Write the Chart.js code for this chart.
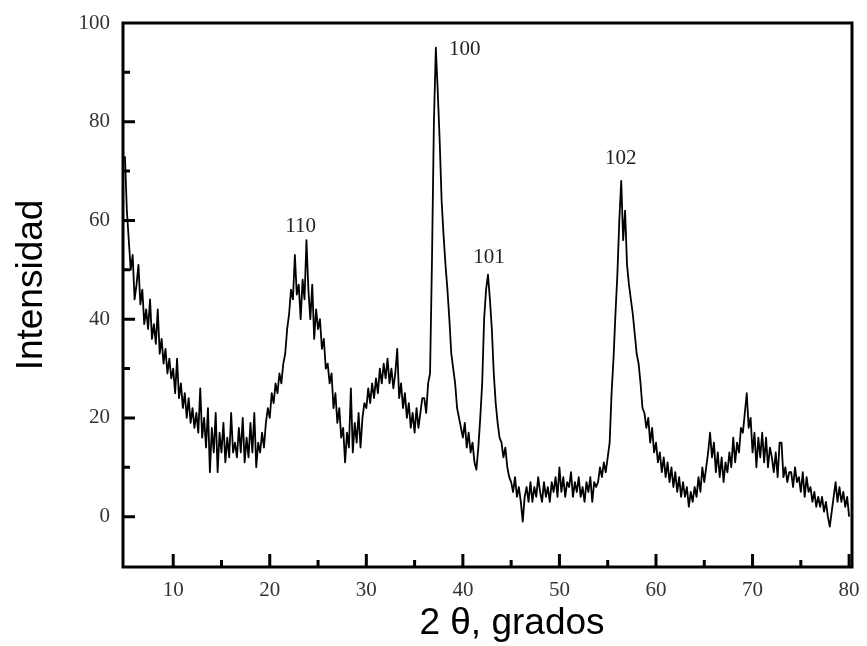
<!DOCTYPE html>
<html>
<head>
<meta charset="utf-8">
<script src="https://cdn.jsdelivr.net/npm/chart.js@4.4.0/dist/chart.umd.min.js"></script>
<style>
  html, body { margin: 0; padding: 0; background: #fff; }
  #wrap { width: 867px; height: 646px; position: relative; }
</style>
</head>
<body>
<div id="wrap"><canvas id="chart_xrd"></canvas></div>
<script>
// scan positions (2 theta, degrees), one row per degree
const twoTheta = [
  5, 5.2, 5.4, 5.6, 5.8,
  6, 6.2, 6.4, 6.6, 6.8,
  7, 7.2, 7.4, 7.6, 7.8,
  8, 8.2, 8.4, 8.6, 8.8,
  9, 9.2, 9.4, 9.6, 9.8,
  10, 10.2, 10.4, 10.6, 10.8,
  11, 11.2, 11.4, 11.6, 11.8,
  12, 12.2, 12.4, 12.6, 12.8,
  13, 13.2, 13.4, 13.6, 13.8,
  14, 14.2, 14.4, 14.6, 14.8,
  15, 15.2, 15.4, 15.6, 15.8,
  16, 16.2, 16.4, 16.6, 16.8,
  17, 17.2, 17.4, 17.6, 17.8,
  18, 18.2, 18.4, 18.6, 18.8,
  19, 19.2, 19.4, 19.6, 19.8,
  20, 20.2, 20.4, 20.6, 20.8,
  21, 21.2, 21.4, 21.6, 21.8,
  22, 22.2, 22.4, 22.6, 22.8,
  23, 23.2, 23.4, 23.6, 23.8,
  24, 24.2, 24.4, 24.6, 24.8,
  25, 25.2, 25.4, 25.6, 25.8,
  26, 26.2, 26.4, 26.6, 26.8,
  27, 27.2, 27.4, 27.6, 27.8,
  28, 28.2, 28.4, 28.6, 28.8,
  29, 29.2, 29.4, 29.6, 29.8,
  30, 30.2, 30.4, 30.6, 30.8,
  31, 31.2, 31.4, 31.6, 31.8,
  32, 32.2, 32.4, 32.6, 32.8,
  33, 33.2, 33.4, 33.6, 33.8,
  34, 34.2, 34.4, 34.6, 34.8,
  35, 35.2, 35.4, 35.6, 35.8,
  36, 36.2, 36.4, 36.6, 36.8,
  37, 37.2, 37.4, 37.6, 37.8,
  38, 38.2, 38.4, 38.6, 38.8,
  39, 39.2, 39.4, 39.6, 39.8,
  40, 40.2, 40.4, 40.6, 40.8,
  41, 41.2, 41.4, 41.6, 41.8,
  42, 42.2, 42.4, 42.6, 42.8,
  43, 43.2, 43.4, 43.6, 43.8,
  44, 44.2, 44.4, 44.6, 44.8,
  45, 45.2, 45.4, 45.6, 45.8,
  46, 46.2, 46.4, 46.6, 46.8,
  47, 47.2, 47.4, 47.6, 47.8,
  48, 48.2, 48.4, 48.6, 48.8,
  49, 49.2, 49.4, 49.6, 49.8,
  50, 50.2, 50.4, 50.6, 50.8,
  51, 51.2, 51.4, 51.6, 51.8,
  52, 52.2, 52.4, 52.6, 52.8,
  53, 53.2, 53.4, 53.6, 53.8,
  54, 54.2, 54.4, 54.6, 54.8,
  55, 55.2, 55.4, 55.6, 55.8,
  56, 56.2, 56.4, 56.6, 56.8,
  57, 57.2, 57.4, 57.6, 57.8,
  58, 58.2, 58.4, 58.6, 58.8,
  59, 59.2, 59.4, 59.6, 59.8,
  60, 60.2, 60.4, 60.6, 60.8,
  61, 61.2, 61.4, 61.6, 61.8,
  62, 62.2, 62.4, 62.6, 62.8,
  63, 63.2, 63.4, 63.6, 63.8,
  64, 64.2, 64.4, 64.6, 64.8,
  65, 65.2, 65.4, 65.6, 65.8,
  66, 66.2, 66.4, 66.6, 66.8,
  67, 67.2, 67.4, 67.6, 67.8,
  68, 68.2, 68.4, 68.6, 68.8,
  69, 69.2, 69.4, 69.6, 69.8,
  70, 70.2, 70.4, 70.6, 70.8,
  71, 71.2, 71.4, 71.6, 71.8,
  72, 72.2, 72.4, 72.6, 72.8,
  73, 73.2, 73.4, 73.6, 73.8,
  74, 74.2, 74.4, 74.6, 74.8,
  75, 75.2, 75.4, 75.6, 75.8,
  76, 76.2, 76.4, 76.6, 76.8,
  77, 77.2, 77.4, 77.6, 77.8,
  78, 78.2, 78.4, 78.6, 78.8,
  79, 79.2, 79.4, 79.6, 79.8,
  80
];

// intensity, same rows as twoTheta
const intensity = [
  73, 62, 56, 50, 53,
  44, 47, 51, 43, 46,
  39, 42, 38, 44, 36,
  39, 35, 42, 33, 36,
  31, 34, 29, 32, 28,
  30, 25, 32, 24, 27,
  22, 25, 20, 24, 19,
  22, 18, 21, 17, 26,
  16, 20, 14, 22, 9,
  18, 13, 21, 9, 17,
  13, 19, 11, 16, 12,
  21, 13, 15, 12, 18,
  13, 20, 11, 16, 12,
  19, 13, 21, 10, 15,
  13, 17, 14, 19, 22,
  20, 25, 23, 27, 25,
  29, 27, 31, 33, 38,
  41, 46, 44, 53, 45,
  47, 40, 48, 44, 56,
  46, 40, 47, 36, 42,
  38, 40, 34, 36, 30,
  31, 27, 29, 22, 25,
  19, 22, 16, 18, 11,
  17, 14, 26, 13, 19,
  15, 21, 14, 20, 23,
  22, 26, 23, 27, 24,
  28, 25, 30, 27, 31,
  28, 32, 27, 30, 26,
  29, 34, 24, 27, 22,
  25, 20, 23, 18, 21,
  17, 22, 18, 21, 24,
  24, 21, 27, 29, 52,
  80, 95, 86, 76, 64,
  57, 51, 46, 40, 33,
  30, 27, 22, 20, 18,
  16, 19, 14, 17, 13,
  15, 11, 9.5, 14, 20,
  27, 40, 46, 49, 44,
  38, 29, 23, 19, 16,
  15, 12, 14, 10, 8,
  7, 5, 8, 4, 6,
  3, -1, 4, 6, 3,
  7, 3, 6, 4, 8,
  5, 3, 7, 4, 6,
  3, 7, 5, 8, 4,
  10, 5, 8, 4, 7,
  6, 9, 4, 7, 5,
  8, 4, 6, 3, 7,
  5, 8, 3, 7, 6,
  7, 10, 8, 11, 9,
  12, 15, 25, 32, 41,
  49, 60, 68, 56, 62,
  51, 47, 44, 41, 37,
  33, 31, 27, 22, 21,
  18, 20, 15, 18, 13,
  15, 11, 13, 9, 12,
  8, 11, 7, 10, 6,
  9, 5, 8, 4, 7,
  4, 6, 2, 5, 3,
  6, 4, 8, 5, 10,
  7, 10, 13, 17, 12,
  15, 9, 13, 8, 12,
  7, 11, 9, 13, 10,
  16, 11, 15, 13, 18,
  17, 21, 25, 18, 20,
  13, 17, 10, 16, 12,
  17, 11, 16, 10, 14,
  12, 9, 13, 8, 15,
  15, 8, 10, 7, 9,
  9, 6, 10, 7, 8,
  5, 9, 4, 8, 5,
  6, 3, 5, 2, 4,
  2, 4, 1, 3, 0,
  -2, 1, 4, 7, 3,
  6, 3, 5, 2, 4,
  0
];

const xTicks = [10, 20, 30, 40, 50, 60, 70, 80];
const xMinorTicks = [15, 25, 35, 45, 55, 65, 75];
const yTicks = [0, 20, 40, 60, 80, 100];
const yMinorTicks = [10, 30, 50, 70, 90];

// reflection labels and where they sit (data units)
const peakNames = ['110', '100', '101', '102'];
const peakLabelX = [23.2, 40.2, 42.7, 56.35];
const peakLabelY = [58.8, 94.7, 52.5, 72.6];

const xTitle = '2 θ, grados';
const yTitle = 'Intensidad';

const serif = '"Liberation Serif", "Times New Roman", serif';
const sans = '"Liberation Sans", Arial, sans-serif';

const xrdFrame = {
  id: 'xrdFrame',
  beforeDraw: (chart) => {
    const ctx = chart.ctx;
    ctx.save();
    ctx.fillStyle = 'white';
    ctx.fillRect(0, 0, chart.width, chart.height);
    ctx.restore();
  },
  afterDraw: (chart) => {
    const ctx = chart.ctx;
    const a = chart.chartArea;
    const x = chart.scales.x;
    const y = chart.scales.y;
    ctx.save();
    ctx.strokeStyle = '#000';
    ctx.lineWidth = 3;
    ctx.strokeRect(a.left, a.top, a.right - a.left, a.bottom - a.top);

    // inward tick marks
    ctx.beginPath();
    xTicks.forEach(v => {
      if (v >= x.max) return;
      const px = x.getPixelForValue(v);
      ctx.moveTo(px, a.bottom); ctx.lineTo(px, a.bottom - 13);
    });
    xMinorTicks.forEach(v => {
      const px = x.getPixelForValue(v);
      ctx.moveTo(px, a.bottom); ctx.lineTo(px, a.bottom - 7);
    });
    yTicks.forEach(v => {
      if (v >= y.max) return;
      const py = y.getPixelForValue(v);
      ctx.moveTo(a.left, py); ctx.lineTo(a.left + 12, py);
    });
    yMinorTicks.forEach(v => {
      const py = y.getPixelForValue(v);
      ctx.moveTo(a.left, py); ctx.lineTo(a.left + 7, py);
    });
    ctx.stroke();

    // peak labels
    ctx.fillStyle = '#222';
    ctx.font = '21px ' + serif;
    ctx.textAlign = 'center';
    ctx.textBaseline = 'middle';
    peakNames.forEach((name, i) => {
      ctx.fillText(name, x.getPixelForValue(peakLabelX[i]), y.getPixelForValue(peakLabelY[i]));
    });

    // axis titles
    ctx.fillStyle = '#000';
    ctx.font = '37px ' + sans;
    ctx.textBaseline = 'alphabetic';
    ctx.fillText(xTitle, 512, 634);
    ctx.translate(42, 285);
    ctx.rotate(-Math.PI / 2);
    ctx.fillText(yTitle, 0, 0);
    ctx.restore();
  }
};

var chart_xrd = new Chart(document.getElementById('chart_xrd'), {
  type: 'line',
  data: {
    datasets: [{
      label: 'XRD',
      data: twoTheta.map((t, i) => ({ x: t, y: intensity[i] })),
      borderColor: '#000',
      borderWidth: 1.8,
      borderJoinStyle: 'round',
      pointRadius: 0,
      tension: 0,
      fill: false
    }]
  },
  options: {
    animation: false,
    responsive: true,
    maintainAspectRatio: false,
    layout: { padding: { top: 23, right: 15, bottom: 0, left: 0 } },
    plugins: {
      legend: { display: false },
      tooltip: { enabled: false }
    },
    scales: {
      x: {
        type: 'linear',
        min: 4.8,
        max: 80.3,
        afterBuildTicks: (s) => { s.ticks = xTicks.map(v => ({ value: v })); },
        afterFit: (s) => { s.height = 79; s.paddingLeft = 0; s.paddingRight = 0; },
        grid: { display: false, drawTicks: false },
        border: { display: false },
        ticks: {
          padding: 11,
          color: '#333',
          maxRotation: 0,
          autoSkip: false,
          font: { family: serif, size: 21 }
        }
      },
      y: {
        type: 'linear',
        min: -10.2,
        max: 100,
        afterBuildTicks: (s) => { s.ticks = yTicks.map(v => ({ value: v })); },
        afterFit: (s) => { s.width = 123; s.paddingTop = 0; s.paddingBottom = 0; },
        grid: { display: false, drawTicks: false },
        border: { display: false },
        ticks: {
          padding: 13,
          color: '#333',
          autoSkip: false,
          font: { family: serif, size: 21 }
        }
      }
    }
  },
  plugins: [xrdFrame]
});
</script>
</body>
</html>
